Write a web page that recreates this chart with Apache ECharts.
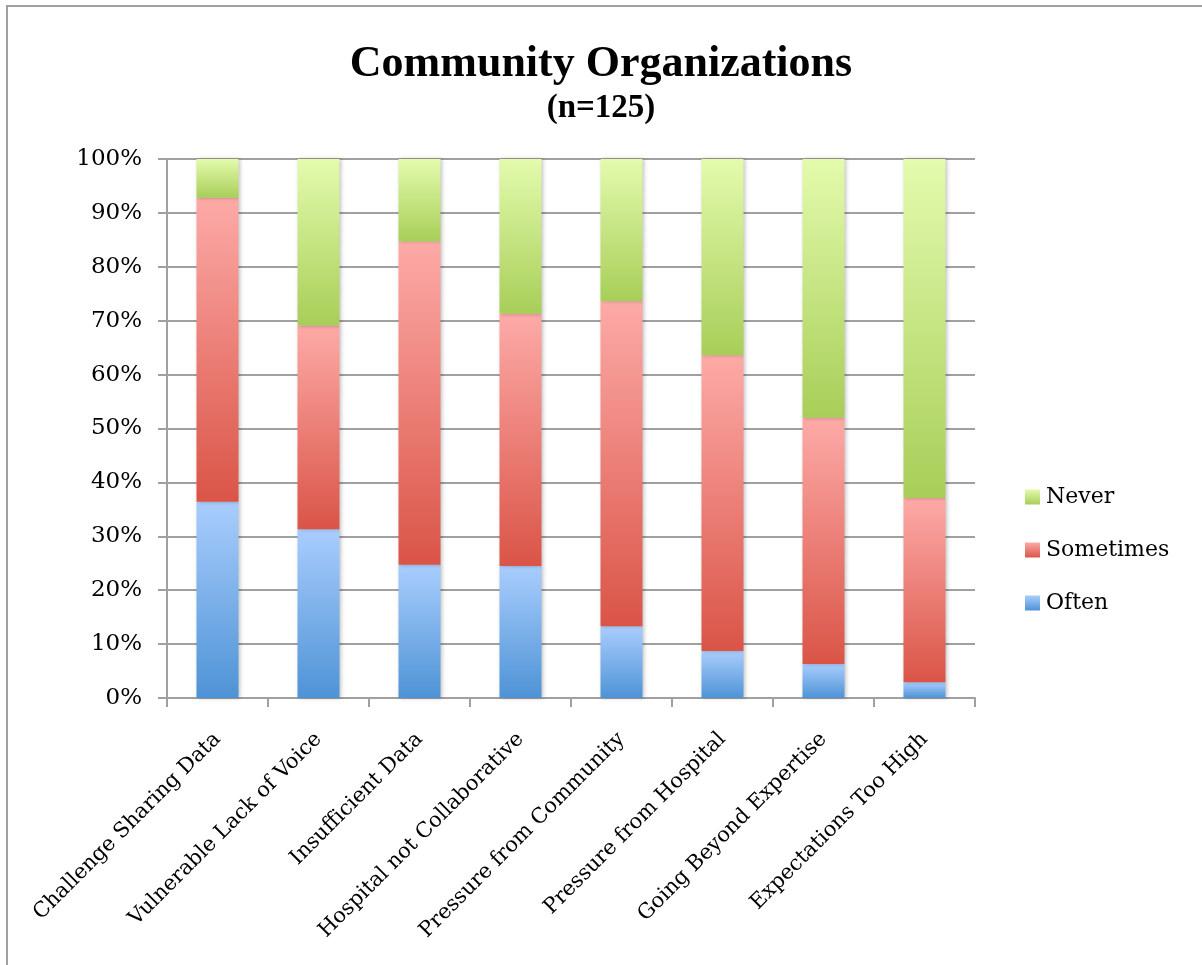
<!DOCTYPE html>
<html>
<head>
<meta charset="utf-8">
<script src="https://cdn.jsdelivr.net/npm/echarts@6/dist/echarts.min.js"></script>
<style>
  html, body { margin: 0; padding: 0; background: #fff; }
  #chart { width: 1202px; height: 965px; }
</style>
</head>
<body>
<div id="chart"></div>
<script>
// Survey categories (x axis)
const categories = [
  'Challenge Sharing Data',
  'Vulnerable Lack of Voice',
  'Insufficient Data',
  'Hospital not Collaborative',
  'Pressure from Community',
  'Pressure from Hospital',
  'Going Beyond Expertise',
  'Expectations Too High'
];

// Share of respondents (%) per answer, stacked to 100
const often     = [36.4, 31.3, 24.7, 24.5, 13.3, 8.7, 6.3, 2.9];
const sometimes = [56.4, 37.8, 60.0, 46.8, 60.3, 54.9, 45.7, 34.2];
const never     = [7.2, 30.9, 15.3, 28.7, 26.4, 36.4, 48.0, 62.9];

// Y axis tick values
const yTicks = [0, 10, 20, 30, 40, 50, 60, 70, 80, 90, 100];

const TITLE_FONT = 'Liberation Serif';
const FONT = 'DejaVu Serif';

function grad(top, bottom) {
  return new echarts.graphic.LinearGradient(0, 0, 0, 1, [
    { offset: 0, color: top },
    { offset: 1, color: bottom }
  ]);
}

const chart = echarts.init(document.getElementById('chart'), null, { renderer: 'canvas' });

function barSeries(name, data, top, bottom) {
  return {
    name: name,
    type: 'bar',
    stack: 'total',
    data: data,
    barWidth: 42,
    itemStyle: {
      color: grad(top, bottom),
      shadowBlur: 4,
      shadowColor: 'rgba(0,0,0,0.25)',
      shadowOffsetX: 1,
      shadowOffsetY: 0
    },
    emphasis: { disabled: true }
  };
}

chart.setOption({
  animation: false,
  backgroundColor: '#ffffff',
  title: [
    {
      text: 'Community Organizations',
      left: 'center',
      top: 38,
      textStyle: { fontFamily: TITLE_FONT, fontWeight: 'bold', fontSize: 44, color: '#000' }
    },
    {
      text: '(n=125)',
      left: 'center',
      top: 87,
      textStyle: { fontFamily: TITLE_FONT, fontWeight: 'bold', fontSize: 33, color: '#000' }
    }
  ],
  legend: {
    orient: 'vertical',
    left: 1025,
    top: 485,
    padding: 0,
    itemWidth: 15,
    itemHeight: 15,
    itemGap: 29,
    icon: 'rect',
    data: ['Never', 'Sometimes', 'Often'],
    textStyle: { fontFamily: FONT, fontSize: 22, color: '#000', lineHeight: 24, padding: [0, 0, 0, 1] }
  },
  grid: {
    left: 167,
    right: 227,
    top: 159,
    bottom: 267,
    containLabel: false
  },
  xAxis: {
    type: 'category',
    data: categories,
    axisLine: { lineStyle: { color: '#a0a0a0', width: 2 } },
    axisTick: { show: true, length: 9, lineStyle: { color: '#a0a0a0', width: 2 } },
    axisLabel: {
      rotate: 45,
      margin: 38,
      interval: 0,
      fontFamily: FONT,
      fontSize: 21,
      color: '#000'
    }
  },
  yAxis: {
    type: 'value',
    min: 0,
    max: 100,
    interval: 10,
    axisLine: { show: true, lineStyle: { color: '#a0a0a0', width: 2 } },
    axisTick: { show: true, length: 9, lineStyle: { color: '#a0a0a0', width: 2 } },
    splitLine: { show: true, lineStyle: { color: '#a0a0a0', width: 2 } },
    axisLabel: {
      margin: 25,
      fontFamily: FONT,
      fontSize: 23,
      color: '#000',
      formatter: function (v) { return yTicks.indexOf(v) >= 0 ? v + '%' : ''; }
    }
  },
  series: [
    barSeries('Often', often, '#a9cdfd', '#4e93d6'),
    barSeries('Sometimes', sometimes, '#fdaaa7', '#da5447'),
    barSeries('Never', never, '#e3fbad', '#a8ce58')
  ],
  graphic: [
    {
      type: 'polyline',
      silent: true,
      shape: { points: [[7, 965], [7, 6], [1202, 6]] },
      style: { stroke: '#a0a0a0', lineWidth: 2, fill: null }
    }
  ]
});
</script>
</body>
</html>
